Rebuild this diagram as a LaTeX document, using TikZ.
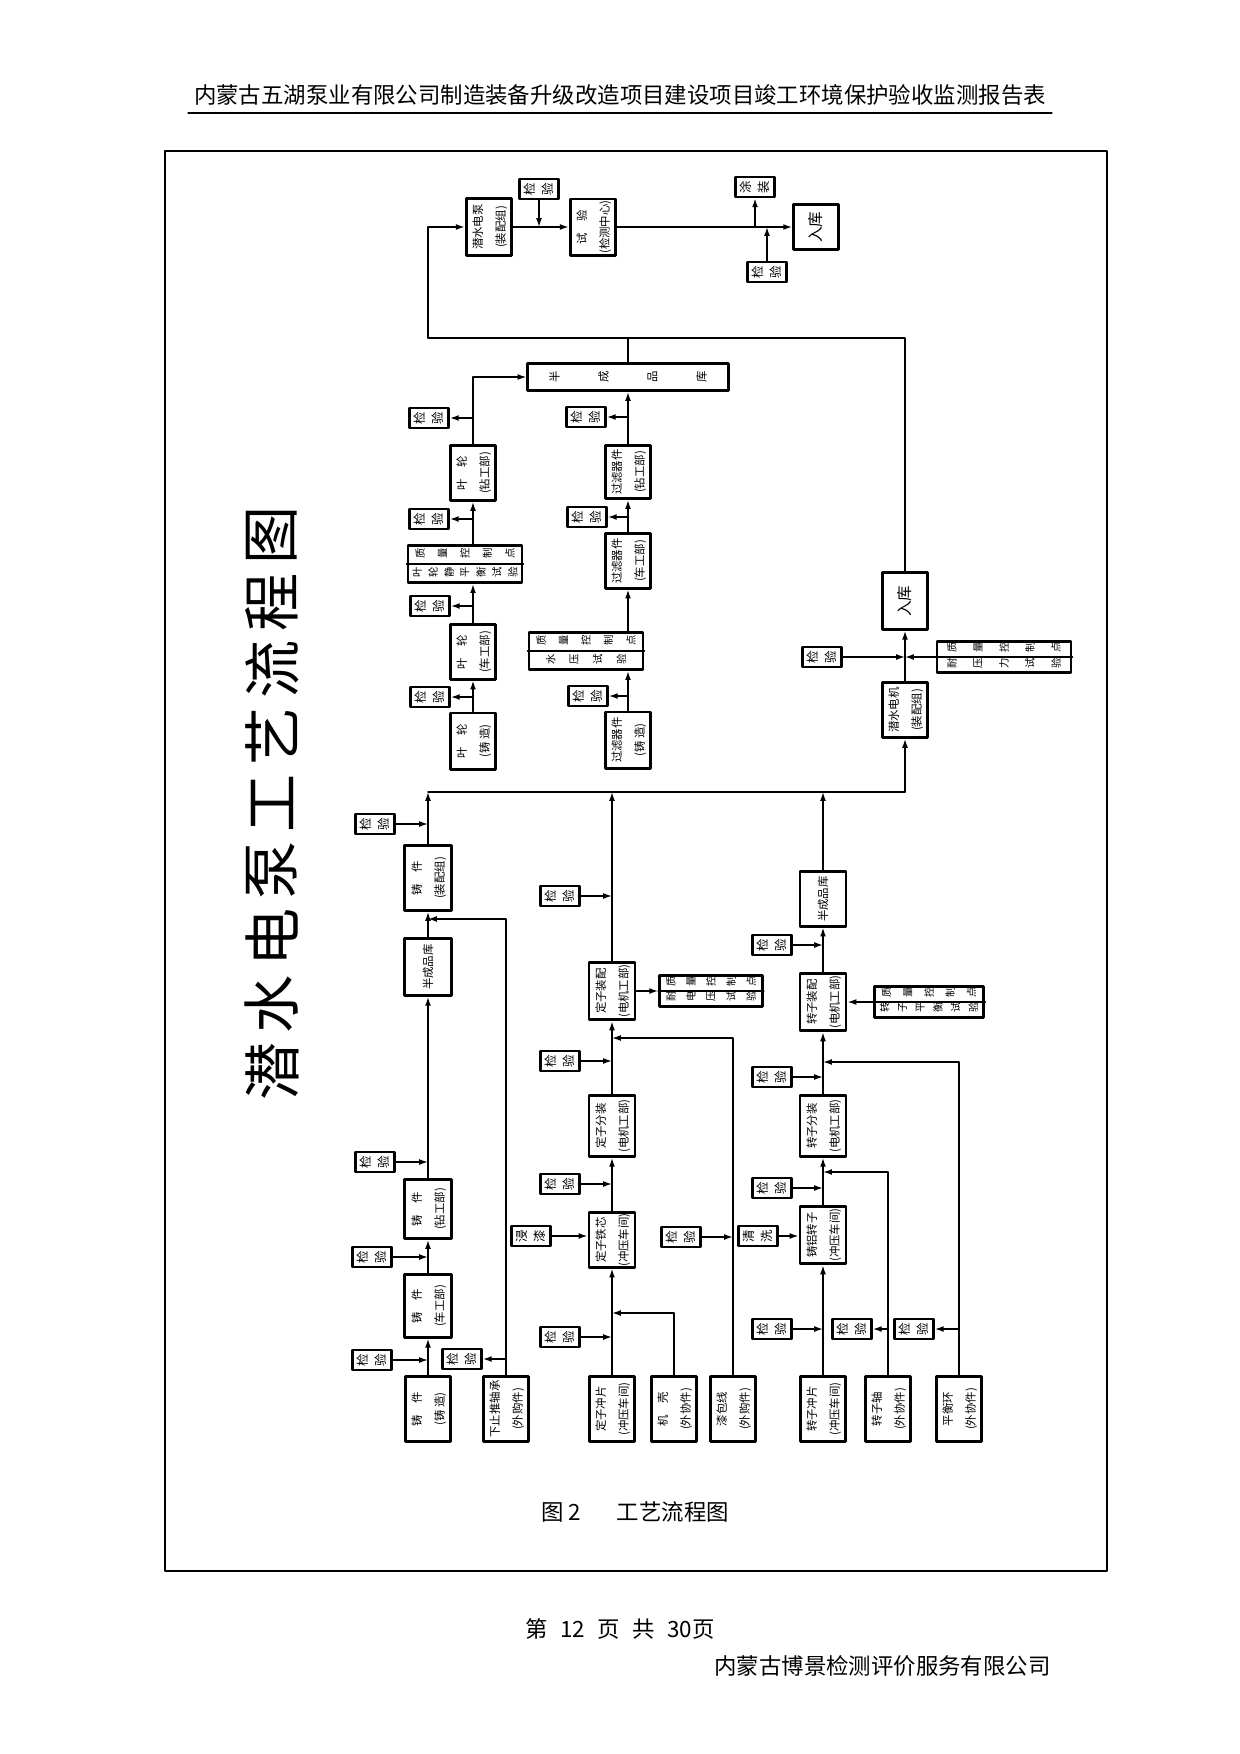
\documentclass[tikz,border=0pt]{standalone}
\usepackage{fontspec}
\setmainfont{Noto Sans CJK SC}
\usepackage{graphicx}
\usepackage{tikz}
\usetikzlibrary{arrows.meta,calc}
% rotated text helpers
\newcommand\rc[1]{\rotatebox{90}{#1}}
\newcommand\rtext[1]{\rotatebox{90}{\begin{tabular}{@{}c@{}}#1\end{tabular}}}
\newcommand\jy{\rc{检}\hspace{3pt}\rc{验}}
\newlength\vcell
\newcommand\vrow[2]{\setlength\vcell{#1}\vrowstep#2\relax}
\def\vrowstep#1{\ifx#1\relax\else\makebox[\vcell]{\rotatebox{90}{#1}}\expandafter\vrowstep\fi}
\tikzset{
every picture/.style={line cap=round,line join=round},
procbox/.style={draw, line width=1.4pt, inner sep=0pt, minimum width=7.8mm, minimum height=9.8mm, font=\fontsize{5.5}{11}\selectfont},
rawbox/.style={procbox, minimum width=7.6mm, minimum height=11mm},
checkbox/.style={draw, line width=1.3pt, inner sep=0pt, minimum width=6.6mm, minimum height=3.4mm, font=\fontsize{6}{7}\selectfont},
ctrlbox/.style={draw, line width=1.4pt, inner sep=0pt, font=\fontsize{5}{8.5}\selectfont},
storebox/.style={procbox, font=\fontsize{7.5}{9}\selectfont},
flowline/.style={draw, line width=0.7pt, -{Latex[length=1.5mm,width=1mm]}},
plainline/.style={draw, line width=0.7pt},
titlechar/.style={inner sep=0pt, font=\fontsize{28}{28}\selectfont},
pagetext/.style={inner sep=0pt, font=\fontsize{10.8}{13}\selectfont}
}
\begin{document}
\begin{tikzpicture}[x=0.16935mm,y=-0.16935mm]
\useasboundingbox (0,0) rectangle (1240,1754);
% page
\node[pagetext] (header) at (620,95) {内蒙古五湖泵业有限公司制造装备升级改造项目建设项目竣工环境保护验收监测报告表};
\draw[line width=0.6pt] (188,113) -- (1052,113);
\draw[line width=0.8pt] (165,151) rectangle (1107,1571);
\node[pagetext] (cap-num) at (561,1512) {图 2};
\node[pagetext] (cap-text) at (673,1512) {工艺流程图};
\node[pagetext] (page-no) at (620,1629) {第\hspace{6pt}12\hspace{6pt}页\hspace{6pt}共\hspace{6pt}30页};
\node[pagetext, anchor=east] (company) at (1051,1666) {内蒙古博景检测评价服务有限公司};
% title
\foreach \ch [count=\i from 0] in {潜,水,电,泵,工,艺,流,程,图}
  \node[titlechar] (title-\i) at (272,1071-67*\i) {\rc{\ch}};

% final assembly
\node[procbox, minimum width=7.6mm, minimum height=9.6mm] (pump) at (489,227) {\rtext{潜水电泵\\(装配组)}};
\node[checkbox] (qc-top) at (539,189) {\jy};
\node[procbox, minimum width=7.1mm, minimum height=9.5mm] (test) at (593,227) {\rtext{试\quad 验\\(检测中心)}};
\node[checkbox] (paint) at (755,187) {\rc{涂}\hspace{3pt}\rc{装}};
\node[checkbox] (qc-paint) at (767,272) {\jy};
\node[storebox, minimum width=7.6mm, minimum height=7.6mm] (store-a) at (816,227) {\rc{入库}};

% impeller and filter lines
\node[procbox, minimum width=33.9mm, minimum height=4.6mm, font=\fontsize{5.5}{6}\selectfont] (semi-a) at (628,377) {\vrow{8.3mm}{半成品库}};
\node[checkbox] (qc-y1) at (429,418) {\jy};
\node[procbox, minimum width=7.3mm, minimum height=9.3mm] (imp-c) at (473,473) {\rtext{叶\quad 轮\\(钻工部)}};
\node[checkbox] (qc-y2) at (429,519) {\jy};
\node[ctrlbox, minimum width=19.3mm, minimum height=6.3mm, font=\fontsize{5}{9}\selectfont] (ctrl-imp) at (465,564) {\begin{tabular}{@{}c@{}}\vrow{3.8mm}{质量控制点}\\\vrow{2.7mm}{叶轮静平衡试验}\end{tabular}};
\node[checkbox] (qc-y3) at (430,606) {\jy};
\node[procbox, minimum width=7.1mm, minimum height=9.2mm] (imp-b) at (473,652) {\rtext{叶\quad 轮\\(车工部)}};
\node[checkbox] (qc-y4) at (430,697) {\jy};
\node[procbox, minimum width=7.1mm, minimum height=9.5mm] (imp-a) at (473,741) {\rtext{叶\quad 轮\\(铸\ 造)}};

\node[checkbox] (qc-f1) at (586,417) {\jy};
\node[procbox, minimum width=7.3mm, minimum height=9.0mm] (fil-c) at (628,472) {\rtext{过滤器件\\(钻工部)}};
\node[checkbox] (qc-f2) at (587,517) {\jy};
\node[procbox, minimum width=7.6mm, minimum height=9.2mm] (fil-b) at (628,561) {\rtext{过滤器件\\(车工部)}};
\node[ctrlbox, minimum width=19.3mm, minimum height=6.3mm, font=\fontsize{5}{9}\selectfont] (ctrl-fil) at (586,651) {\begin{tabular}{@{}c@{}}\vrow{3.8mm}{质量控制点}\\\vrow{4mm}{水压试验}\end{tabular}};
\node[checkbox] (qc-f3) at (588,696) {\jy};
\node[procbox, minimum width=7.6mm, minimum height=9.5mm] (fil-a) at (628,740) {\rtext{过滤器件\\(铸\ 造)}};

% motor
\node[storebox, minimum width=7.6mm, minimum height=9.6mm] (store-b) at (905,601) {\rc{入库}};
\node[checkbox] (qc-m) at (822,657) {\jy};
\node[ctrlbox, minimum width=22.7mm, minimum height=5.4mm, font=\fontsize{5}{7.6}\selectfont] (ctrl-mot) at (1004,657) {\begin{tabular}{@{}c@{}}\vrow{4.4mm}{质量控制点}\\\vrow{4.4mm}{耐压力试验}\end{tabular}};
\node[procbox, minimum width=7.5mm, minimum height=9.3mm] (motor) at (905,710) {\rtext{潜水电机\\(装配组)}};

% casing line
\node[checkbox] (qc-p1) at (375,824) {\jy};
\node[procbox, minimum width=8mm, minimum height=11mm] (cast-d) at (428,878) {\rtext{铸\quad 件\\(装配组)}};
\node[procbox, minimum width=8mm, minimum height=9.6mm] (semi-b) at (428,967) {\rc{半成品库}};
\node[checkbox] (qc-p2) at (375,1162) {\jy};
\node[procbox, minimum width=8mm, minimum height=10mm] (cast-c) at (428,1209) {\rtext{铸\quad 件\\(钻工部)}};
\node[checkbox] (qc-p3) at (372,1257) {\jy};
\node[procbox, minimum width=8mm, minimum height=10.6mm] (cast-b) at (428,1306) {\rtext{铸\quad 件\\(车工部)}};
\node[checkbox] (qc-p4) at (372,1360) {\jy};
\node[rawbox] (cast-a) at (428,1409) {\rtext{铸\quad 件\\(铸\ 造)}};
\node[checkbox] (qc-p5) at (462,1359) {\jy};
\node[rawbox] (bearing) at (506,1409) {\rtext{下止推轴承\\(外购件)}};

% stator line
\node[checkbox] (qc-s1) at (560,896) {\jy};
\node[procbox] (sta-d) at (612,991) {\rtext{定子装配\\(电机工部)}};
\node[ctrlbox, minimum width=17.4mm, minimum height=5.3mm, font=\fontsize{5}{7.5}\selectfont] (ctrl-sta) at (711,991) {\begin{tabular}{@{}c@{}}\vrow{3.4mm}{质量控制点}\\\vrow{3.4mm}{耐电压试验}\end{tabular}};
\node[checkbox] (qc-s2) at (560,1061) {\jy};
\node[procbox, minimum height=10.3mm] (sta-c) at (612,1126) {\rtext{定子分装\\(电机工部)}};
\node[checkbox] (qc-s3) at (560,1184) {\jy};
\node[checkbox] (dip) at (531,1236) {\rc{浸}\hspace{3pt}\rc{漆}};
\node[procbox, minimum height=9.2mm] (sta-b) at (612,1240) {\rtext{定子铁芯\\(冲压车间)}};
\node[checkbox] (qc-s4) at (681,1237) {\jy};
\node[checkbox] (qc-s5) at (560,1337) {\jy};
\node[rawbox] (sta-a) at (612,1409) {\rtext{定子冲片\\(冲压车间)}};
\node[rawbox] (shell) at (674,1409) {\rtext{机\quad 壳\\(外协件)}};
\node[rawbox] (wire) at (733,1409) {\rtext{漆包线\\(外购件)}};

% rotor line
\node[procbox, minimum height=9.2mm] (semi-c) at (823,899) {\rc{半成品库}};
\node[checkbox] (qc-r1) at (772,945) {\jy};
\node[procbox] (rot-d) at (823,1002) {\rtext{转子装配\\(电机工部)}};
\node[ctrlbox, minimum width=18.6mm, minimum height=5.3mm, font=\fontsize{5}{7.5}\selectfont] (ctrl-rot) at (929,1002) {\begin{tabular}{@{}c@{}}\vrow{3.6mm}{质量控制点}\\\vrow{3mm}{转子平衡试验}\end{tabular}};
\node[checkbox] (qc-r2) at (772,1077) {\jy};
\node[procbox, minimum height=10.3mm] (rot-c) at (823,1126) {\rtext{转子分装\\(电机工部)}};
\node[checkbox] (qc-r3) at (772,1188) {\jy};
\node[checkbox] (clean) at (758,1236) {\rc{清}\hspace{3pt}\rc{洗}};
\node[procbox] (rot-b) at (823,1235) {\rtext{铸铝转子\\(冲压车间)}};
\node[checkbox] (qc-r4) at (772,1329) {\jy};
\node[checkbox] (qc-r5) at (852,1329) {\jy};
\node[checkbox] (qc-r6) at (914,1329) {\jy};
\node[rawbox] (rot-a) at (823,1409) {\rtext{转子冲片\\(冲压车间)}};
\node[rawbox] (shaft) at (888,1409) {\rtext{转子轴\\(外协件)}};
\node[rawbox] (ring) at (959,1409) {\rtext{平衡环\\(外协件)}};

% junctions
\coordinate (ret-l) at (428,338);
\coordinate (bus-l) at (428,792);
\coordinate (bus-r) at (905,792);
\coordinate (j-bearing) at (428,919);
\coordinate (j-wire) at (612,1038);
\coordinate (j-shell) at (612,1313);
\coordinate (j-ring) at (823,1062);
\coordinate (j-shaft) at (823,1172);

% dividers of the control boxes
\foreach \b in {ctrl-imp,ctrl-fil,ctrl-mot,ctrl-sta,ctrl-rot}
  \draw[plainline] (\b.west) -- (\b.east);

% top line
\draw[flowline] (pump) -- (test);
\draw[flowline] (test) -- (store-a);
\draw[flowline] (qc-top) -- (qc-top |- pump.east);
\draw[flowline] (paint |- test.east) -- (paint);
\draw[flowline] (qc-paint) -- (qc-paint |- test.east);
\draw[plainline] (store-b) |- (ret-l);
\draw[plainline] (semi-a) -- (semi-a |- ret-l);
\draw[flowline] (ret-l) |- (pump);

% impeller and filter
\draw[flowline] (imp-a) -- (imp-b);
\draw[flowline] (imp-b) -- (imp-b |- ctrl-imp.south);
\draw[flowline] (imp-c |- ctrl-imp.north) -- (imp-c);
\draw[flowline] (imp-c) |- (semi-a);
\foreach \q in {qc-y1,qc-y2,qc-y3,qc-y4}
  \draw[flowline] (\q -| imp-c) -- (\q);
\draw[flowline] (fil-a) -- (fil-a |- ctrl-fil.south);
\draw[flowline] (fil-b |- ctrl-fil.north) -- (fil-b);
\draw[flowline] (fil-b) -- (fil-c);
\draw[flowline] (fil-c) -- (fil-c |- semi-a.south);
\foreach \q in {qc-f1,qc-f2,qc-f3}
  \draw[flowline] (\q -| fil-c) -- (\q);

% motor
\draw[plainline] (bus-l) -- (bus-r);
\draw[flowline] (bus-r) -- (motor);
\draw[flowline] (motor) -- (store-b);
\draw[flowline] (qc-m) -- (qc-m -| motor);
\draw[flowline] (ctrl-mot) -- (ctrl-mot -| motor);
\draw[flowline] (cast-d) -- (bus-l);
\draw[flowline] (sta-d) -- (sta-d |- bus-l);
\draw[flowline] (semi-c) -- (semi-c |- bus-l);

% casing
\draw[flowline] (semi-b) -- (cast-d);
\draw[flowline] (cast-c) -- (semi-b);
\draw[flowline] (cast-b) -- (cast-c);
\draw[flowline] (cast-a) -- (cast-b);
\draw[flowline] (bearing) |- (j-bearing);
\foreach \q in {qc-p1,qc-p2,qc-p3,qc-p4}
  \draw[flowline] (\q) -- (\q -| cast-a);
\draw[flowline] (qc-p5 -| bearing) -- (qc-p5);

% stator
\draw[flowline] (sta-d) -- (ctrl-sta);
\draw[flowline] (sta-c) -- (sta-d);
\draw[flowline] (sta-b) -- (sta-c);
\draw[flowline] (sta-a) -- (sta-b);
\draw[flowline] (wire) |- (j-wire);
\draw[flowline] (shell) |- (j-shell);
\foreach \q in {qc-s1,qc-s2,qc-s3,qc-s5}
  \draw[flowline] (\q) -- (\q -| sta-a);
\draw[flowline] (dip) -- (dip -| sta-b.west);
\draw[flowline] (qc-s4) -- (qc-s4 -| wire);

% rotor
\draw[flowline] (rot-d) -- (semi-c);
\draw[flowline] (ctrl-rot) -- (rot-d);
\draw[flowline] (rot-c) -- (rot-d);
\draw[flowline] (rot-b) -- (rot-c);
\draw[flowline] (rot-a) -- (rot-b);
\draw[flowline] (ring) |- (j-ring);
\draw[flowline] (shaft) |- (j-shaft);
\foreach \q in {qc-r1,qc-r2,qc-r3,qc-r4}
  \draw[flowline] (\q) -- (\q -| rot-a);
\draw[flowline] (clean) -- (clean -| rot-b.west);
\draw[flowline] (qc-r5 -| shaft) -- (qc-r5);
\draw[flowline] (qc-r6 -| ring) -- (qc-r6);
\end{tikzpicture}
\end{document}
